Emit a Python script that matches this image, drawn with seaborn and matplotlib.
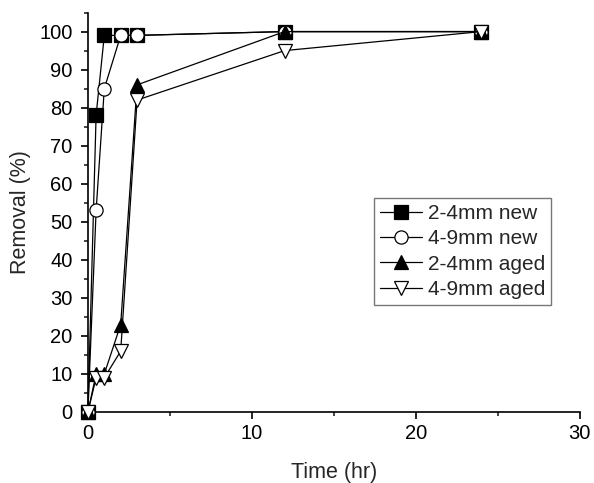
import matplotlib
matplotlib.use("Agg")
import matplotlib.pyplot as plt
import seaborn as sns
import pandas as pd
from matplotlib.ticker import MultipleLocator

time = [0, 0.5, 1, 2, 3, 12, 24]
new_24 = [0, 78, 99, 99, 99, 100, 100]
new_49 = [0, 53, 85, 99, 99, 100, 100]
aged_24 = [0, 10, 10, 23, 86, 100, 100]
aged_49 = [0, 9, 9, 16, 82, 95, 100]
labels = ["2-4mm new", "4-9mm new", "2-4mm aged", "4-9mm aged"]
series = [new_24, new_49, aged_24, aged_49]
markers = ["s", "o", "^", "v"]
faces = ["black", "white", "black", "white"]

sns.set_style("ticks")
plt.rcParams["font.family"] = ["Liberation Sans", "DejaVu Sans"]

fig = plt.figure(figsize=(5.94, 4.83), dpi=100)
ax = fig.add_axes([0.148, 0.147, 0.828, 0.827])

for lab, vals, m, fc in zip(labels, series, markers, faces):
    df = pd.DataFrame({"t": time, "v": vals})
    sns.lineplot(data=df, x="t", y="v", ax=ax, color="black", linewidth=0.9,
                 marker=m, markersize=9.5, markerfacecolor=fc,
                 markeredgecolor="black", markeredgewidth=0.9,
                 label=lab, clip_on=False, zorder=3)

ax.set_xlim(0, 30)
ax.set_ylim(0, 105)
ax.xaxis.set_major_locator(MultipleLocator(10))
ax.xaxis.set_minor_locator(MultipleLocator(5))
ax.yaxis.set_major_locator(MultipleLocator(10))
ax.yaxis.set_minor_locator(MultipleLocator(5))
ax.set_yticks(range(0, 101, 10))
ax.tick_params(which="major", direction="out", length=5, width=1.2, labelsize=14.5, colors="black")
ax.tick_params(axis="y", which="major", pad=6)
ax.tick_params(which="minor", direction="out", length=3, width=1.2)
for s in ["top", "right"]:
    ax.spines[s].set_visible(False)
for s in ["left", "bottom"]:
    ax.spines[s].set_linewidth(1.2)
    ax.spines[s].set_color("black")

ax.set_xlabel("Time (hr)", fontsize=15.5, labelpad=14)
ax.set_ylabel("Removal (%)", fontsize=15.5, labelpad=6)

leg = ax.legend(loc="upper left", bbox_to_anchor=(0.581, 0.536), fontsize=15,
                frameon=True, fancybox=False, edgecolor="#555555",
                handlelength=2.0, handletextpad=0.3, borderpad=0.3,
                labelspacing=0.3, borderaxespad=0)
leg.get_frame().set_linewidth(1.0)

fig.savefig("out.png", dpi=100)
